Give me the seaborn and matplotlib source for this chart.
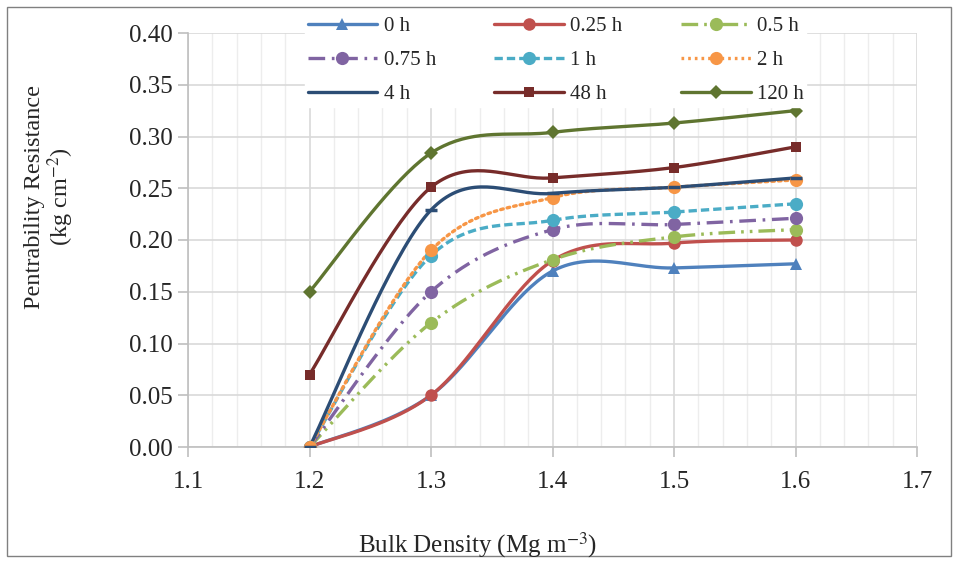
import numpy as np
import matplotlib
matplotlib.use("Agg")
import matplotlib.pyplot as plt
import seaborn as sns
from matplotlib.lines import Line2D
from matplotlib.patches import Rectangle

bulk_density = [1.2, 1.3, 1.4, 1.5, 1.6]
series_labels = ["0 h", "0.25 h", "0.5 h", "0.75 h", "1 h", "2 h", "4 h", "48 h", "120 h"]
v_0h = [0.0, 0.05, 0.170, 0.173, 0.177]
v_025h = [0.0, 0.05, 0.180, 0.197, 0.200]
v_05h = [0.0, 0.12, 0.181, 0.203, 0.210]
v_075h = [0.0, 0.15, 0.210, 0.215, 0.221]
v_1h = [0.0, 0.185, 0.219, 0.227, 0.235]
v_2h = [0.0, 0.190, 0.241, 0.251, 0.258]
v_4h = [0.0, 0.229, 0.245, 0.251, 0.260]
v_48h = [0.07, 0.251, 0.260, 0.270, 0.290]
v_120h = [0.15, 0.284, 0.304, 0.313, 0.325]
values = [v_0h, v_025h, v_05h, v_075h, v_1h, v_2h, v_4h, v_48h, v_120h]

colors = ["#4F81BD", "#C0504D", "#9BBB59", "#8064A2", "#4BACC6", "#F79646",
          "#2C4D75", "#772C2A", "#5F7530"]
markers = ["^", "o", "o", "o", "o", "o", "_", "s", "D"]
msizes = [8.5, 9, 9.5, 9.5, 9.5, 9.5, 9, 7.5, 7]
dash_styles = ["-", "-", (0, (5, 1.8, 0.8, 1.8, 0.8, 1.8)), (0, (5, 2, 0.8, 2)),
               (0, (2.5, 1.2)), (0, (0.8, 1.2)), "-", "-", "-"]

sns.set_theme(style="white")
plt.rcParams["font.family"] = ["Liberation Serif", "DejaVu Serif"]
plt.rcParams["mathtext.fontset"] = "stix"

fig = plt.figure(figsize=(9.58, 5.63), dpi=100)
ax = fig.add_axes([188/958, 1-447/563, (917-188)/958, (447-33)/563])


def smooth(xs, ys, n=40):
    P = np.column_stack([xs, ys]).astype(float)
    P_ext = np.vstack([P[0], P, P[-1]])
    out = []
    t = np.linspace(0, 1, n)[:, None]
    for i in range(1, len(P_ext) - 2):
        p0, p1, p2, p3 = P_ext[i-1], P_ext[i], P_ext[i+1], P_ext[i+2]
        b1 = p1 + (p2 - p0) / 6
        b2 = p2 - (p3 - p1) / 6
        seg = ((1-t)**3)*p1 + 3*((1-t)**2)*t*b1 + 3*(1-t)*(t**2)*b2 + (t**3)*p2
        out.append(seg if i == 1 else seg[1:])
    S = np.vstack(out)
    return S[:, 0], S[:, 1]


handles = []
for lab, vals, c, m, ms, ls in zip(series_labels, values, colors, markers, msizes, dash_styles):
    sx, sy = smooth(bulk_density, vals)
    ax.plot(sx, sy, color=c, lw=2.4, linestyle=ls, zorder=3,
            dash_capstyle="round" if ls == (0, (0.8, 1.2)) else "butt")
    mew = 2.5 if m == "_" else 0
    ax.plot(bulk_density, vals, linestyle="none", marker=m, markersize=ms,
            color=c, markeredgecolor=c, markeredgewidth=mew, zorder=4)
    handles.append(Line2D([0], [0], color=c, lw=2.4, linestyle=ls,
                          marker=(None if m == "_" else m), markersize=ms,
                          markeredgewidth=0))

ax.set_xlim(1.1, 1.7)
ax.set_ylim(0, 0.40)
ax.set_xticks(np.round(np.arange(1.1, 1.71, 0.1), 2))
ax.set_xticks(np.round(np.arange(1.1, 1.71, 0.02), 2), minor=True)
ax.set_yticks(np.round(np.arange(0, 0.401, 0.05), 2))
ax.set_yticklabels([f"{v:.2f}" for v in np.arange(0, 0.401, 0.05)])
ax.set_xticklabels([f"{v:.1f}" for v in np.arange(1.1, 1.71, 0.1)])
ax.grid(True, which="major", color="#D9D9D9", lw=1.2)
ax.grid(True, which="minor", axis="x", color="#EDEDED", lw=1.0)
ax.set_axisbelow(True)
for s in ["top", "right"]:
    ax.spines[s].set_visible(False)
for s in ["left", "bottom"]:
    ax.spines[s].set_color("#BFBFBF")
    ax.spines[s].set_linewidth(1.2)
ax.tick_params(axis="both", which="major", labelsize=18, length=7, width=1.2,
               color="#BFBFBF", direction="out", bottom=True, left=True, pad=4)
ax.tick_params(axis="both", which="minor", length=0)
ax.tick_params(axis="x", pad=10)

fig.text(50/958, 1-197/563, "Pentrability Resistance\n(kg cm$^{-2}$)", rotation=90,
         ha="center", va="center", fontsize=17.5, linespacing=1.0)
fig.text(478/958, 1-545/563, "Bulk Density (Mg m$^{-3}$)", ha="center", va="center",
         fontsize=18)

order = [0, 3, 6, 1, 4, 7, 2, 5, 8]
leg = fig.legend([handles[i] for i in order], [series_labels[i] for i in order],
                 ncol=3, loc="upper left",
                 bbox_to_anchor=(305/958, 1-14/563), frameon=True, fontsize=15,
                 handlelength=3.35, handletextpad=0.3, columnspacing=2.8,
                 labelspacing=0.7, borderpad=0.12, borderaxespad=0)
leg.get_frame().set_facecolor("white")
leg.get_frame().set_edgecolor("white")
leg.get_frame().set_alpha(1)
leg.set_zorder(10)

fig.patches.append(Rectangle((7/958, 7/563), 944/958, 1-14/563, transform=fig.transFigure,
                             fill=False, edgecolor="#808080", lw=1.0))

fig.savefig("out.png", dpi=100)
